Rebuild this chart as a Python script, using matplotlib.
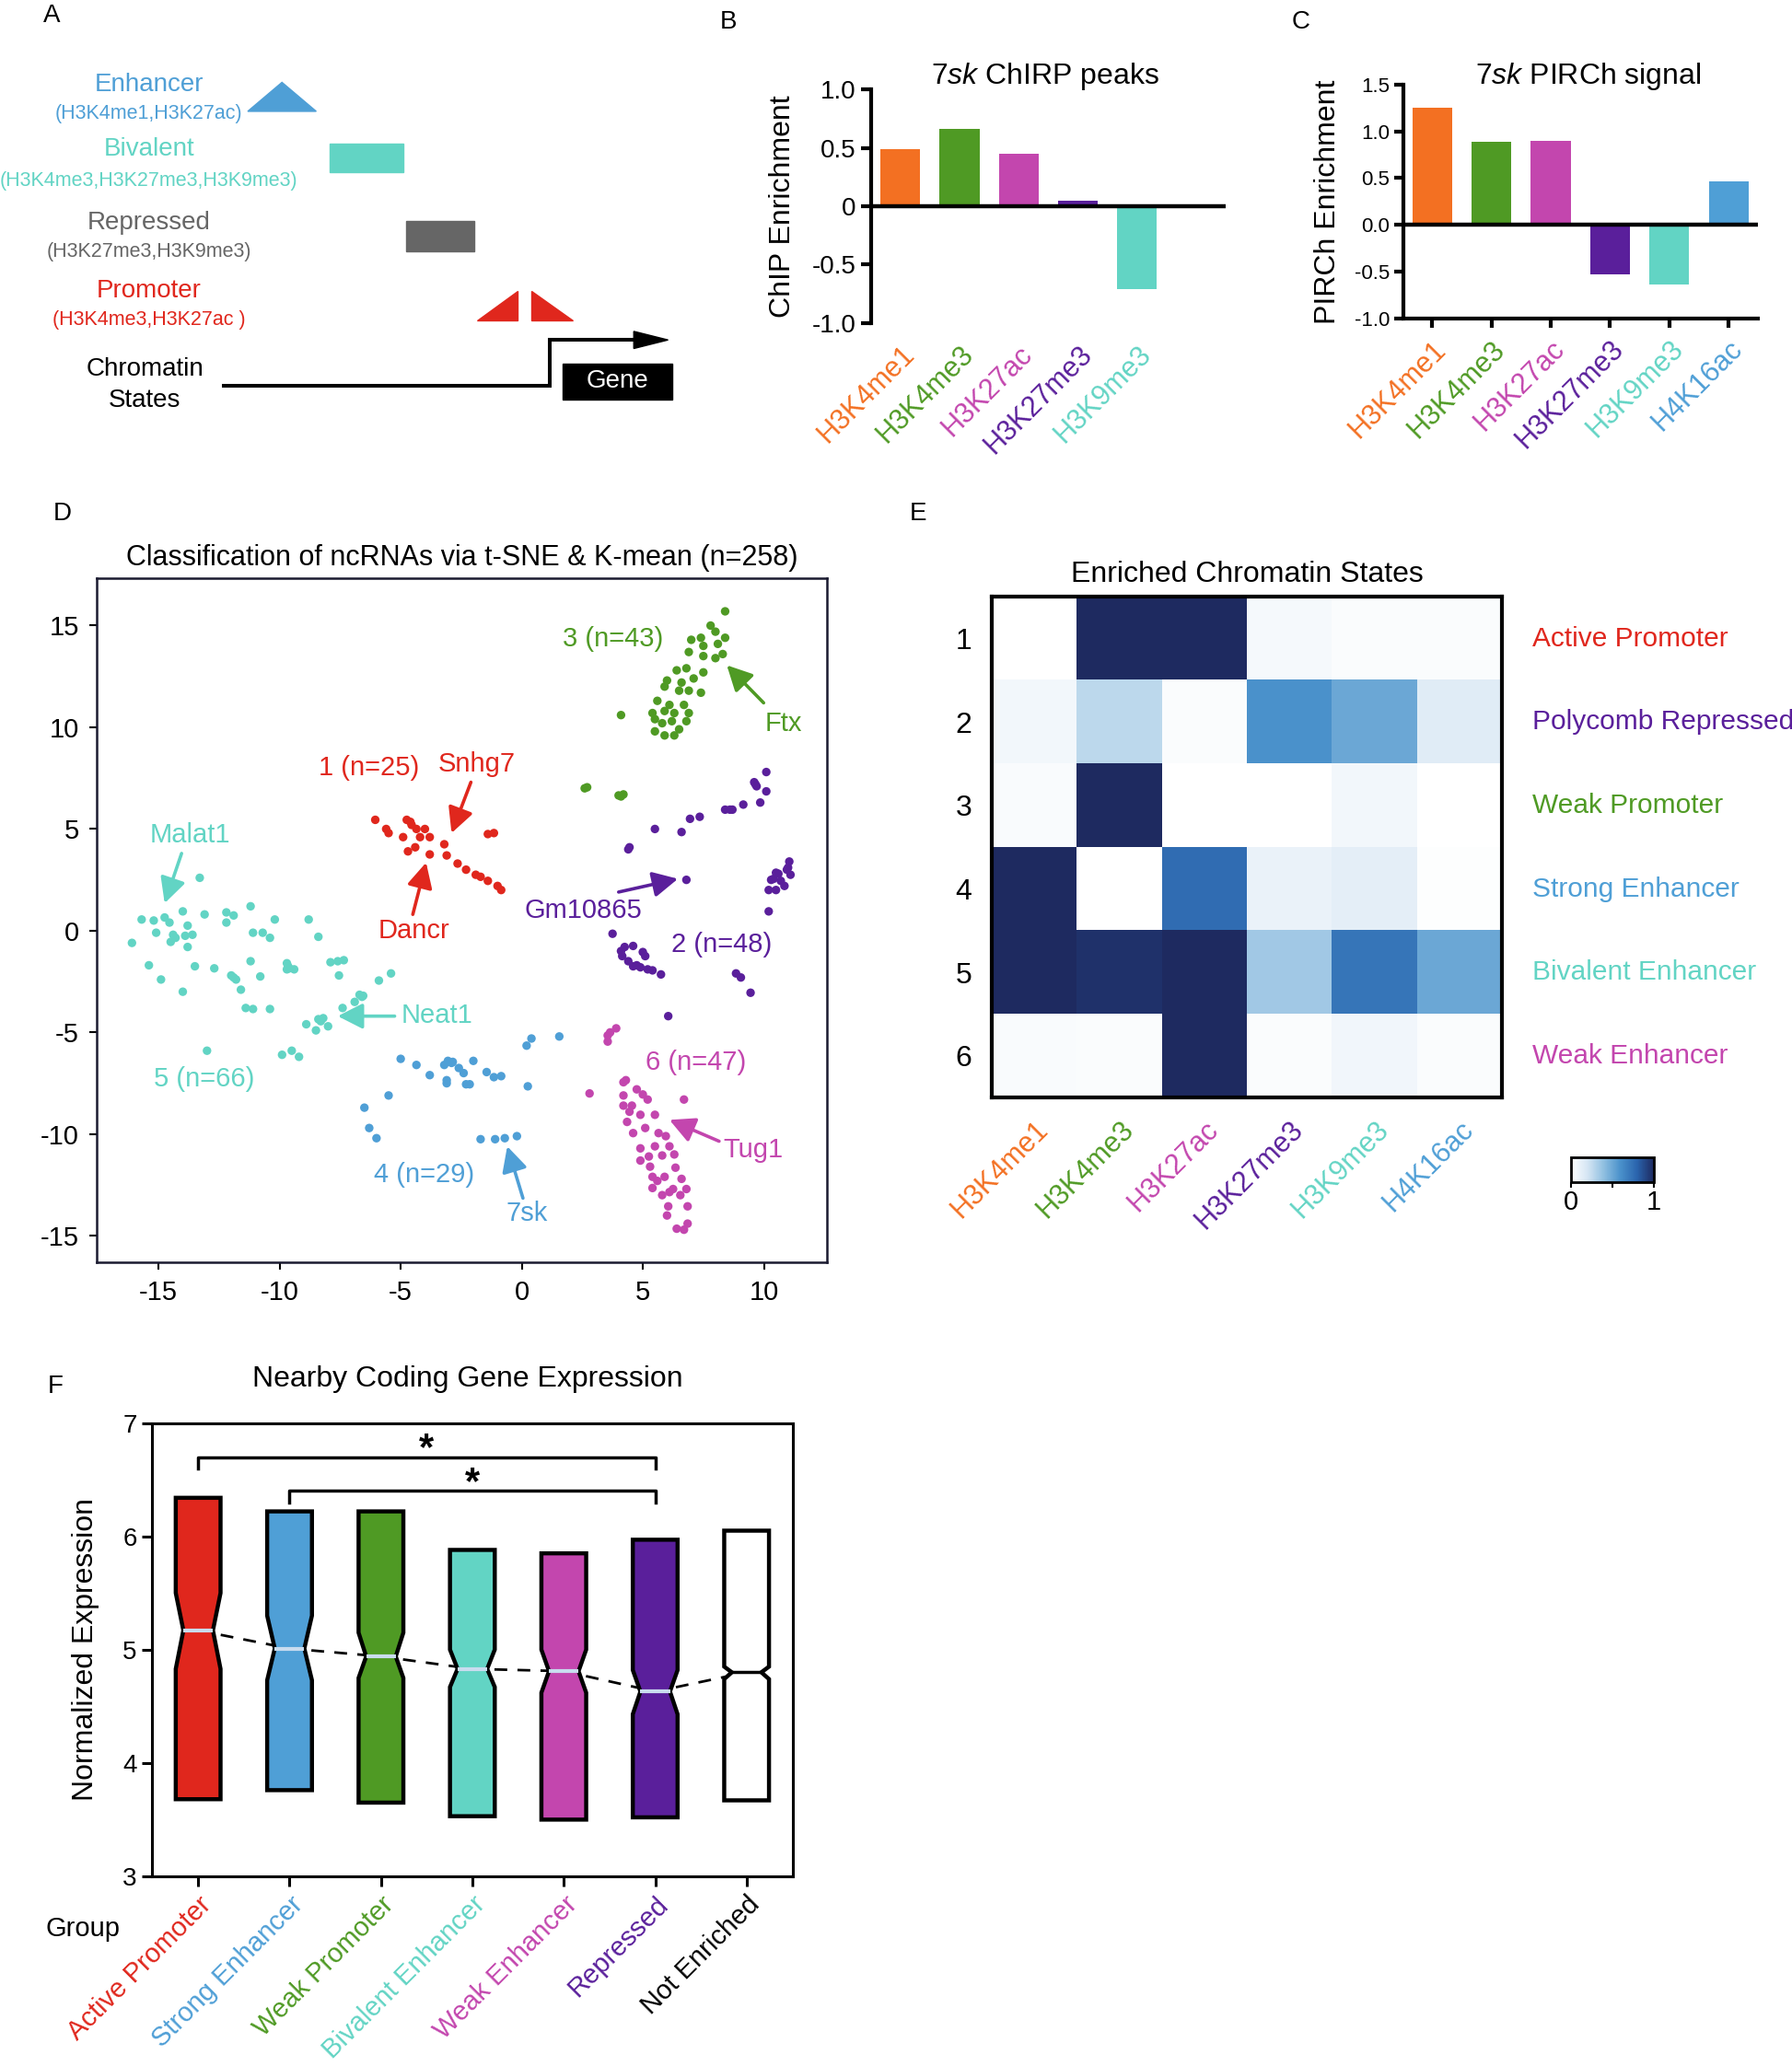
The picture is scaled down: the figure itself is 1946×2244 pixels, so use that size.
import numpy as np
import matplotlib
matplotlib.use('Agg')
import matplotlib.pyplot as plt
from matplotlib.patches import Polygon, Rectangle
from matplotlib.colors import LinearSegmentedColormap

plt.rcParams['font.family'] = ['Liberation Sans', 'DejaVu Sans']
plt.rcParams['axes.unicode_minus'] = False
plt.rcParams['mathtext.fontset'] = 'custom'
plt.rcParams['mathtext.it'] = 'Liberation Sans:italic'
plt.rcParams['mathtext.rm'] = 'Liberation Sans'

# colours per mark
ORANGE = '#f37022'
GREEN = '#4f9a24'
MAGENTA = '#c346ae'
PURPLE = '#5a1f9b'
TEAL = '#62d4c4'
BLUE = '#4f9fd6'
RED = '#e0271d'
GRAY = '#666666'

# ---- panel B / C data ----
marks_b = ['H3K4me1', 'H3K4me3', 'H3K27ac', 'H3K27me3', 'H3K9me3']
chirp = [0.49, 0.66, 0.45, 0.05, -0.71]
marks_c = ['H3K4me1', 'H3K4me3', 'H3K27ac', 'H3K27me3', 'H3K9me3', 'H4K16ac']
pirch = [1.25, 0.89, 0.90, -0.53, -0.63, 0.47]
mark_colors = [ORANGE, GREEN, MAGENTA, PURPLE, TEAL, BLUE]

# ---- panel D data (t-SNE coords per cluster) ----
x1 = [-6.05, -5.6, -5.5, -4.75, -4.6, -4.35, -4.0, -4.9, -4.2, -3.8, -4.4, -4.7, -3.8, -3.2, -3.1,
      -2.65, -2.3, -1.9, -1.7, -1.4, -1.0, -0.85, -1.4, -1.15, -4.55]
y1 = [5.45, 5.0, 4.8, 5.45, 5.35, 5.0, 5.0, 4.6, 4.6, 4.6, 4.1, 3.9, 3.75, 4.25, 3.7,
      3.3, 3.0, 2.75, 2.65, 2.45, 2.2, 2.0, 4.75, 4.8, 5.2]
x2 = [10.1, 9.6, 9.7, 10.1, 9.85, 9.15, 8.4, 8.7, 7.35, 6.95, 6.6, 5.5, 4.45, 4.4, 6.8,
      11.05, 10.95, 11.1, 10.5, 10.4, 10.2, 10.5, 10.85, 10.2, 10.7, 10.3, 3.75, 4.1, 4.25, 4.6,
      4.4, 4.6, 4.9, 5.0, 5.1, 5.4, 5.75, 8.85, 9.05, 9.45, 6.05, 4.15, 4.75, 8.6, 11.0,
      10.6, 9.65, 5.2]
y2 = [7.8, 7.3, 7.1, 6.85, 6.3, 6.2, 5.95, 5.95, 5.6, 5.5, 4.85, 5.0, 4.1, 4.0, 2.5,
      3.4, 3.0, 2.75, 2.85, 2.55, 2.0, 2.0, 2.2, 0.95, 2.45, 2.5, -0.15, -1.0, -0.8, -0.75,
      -1.5, -1.75, -1.8, -1.05, -1.25, -1.95, -2.15, -2.1, -2.3, -3.05, -4.2, -1.25, -1.7, 5.95, 3.1,
      2.8, 7.2, -1.9]
x3 = [8.4, 7.8, 8.0, 7.4, 7.0, 8.4, 8.1, 7.5, 6.9, 8.3, 8.0, 7.5, 6.8, 6.4, 7.5,
      6.0, 6.6, 7.1, 5.9, 6.5, 6.9, 7.4, 5.6, 6.1, 6.7, 5.4, 5.9, 6.3, 6.9, 5.5,
      5.8, 6.2, 6.8, 5.5, 5.9, 6.3, 6.5, 4.1, 2.6, 2.7, 4.1, 4.2, 4.0]
y3 = [15.7, 15.0, 14.7, 14.4, 14.3, 14.4, 14.1, 14.0, 13.7, 13.6, 13.4, 13.5, 12.9, 12.8, 12.7,
      12.3, 12.2, 12.4, 12.0, 11.8, 11.8, 11.7, 11.3, 11.1, 11.1, 10.7, 10.8, 10.7, 10.7, 10.4,
      10.2, 10.3, 10.3, 9.8, 9.6, 9.6, 9.9, 10.6, 7.0, 7.05, 6.6, 6.7, 6.65]
x4 = [-5.0, -4.35, -3.8, -3.2, -3.05, -2.9, -3.1, -3.1, -2.6, -2.4, -2.3, -2.15, -2.0, -1.45, -1.15,
      -0.85, 0.2, 0.4, 1.55, 0.25, -5.5, -6.5, -6.3, -6.0, -1.7, -1.1, -0.7, -0.2, -2.85]
y4 = [-6.3, -6.6, -7.1, -6.6, -6.4, -6.5, -7.35, -7.5, -6.75, -7.0, -7.55, -7.55, -6.4, -6.95, -7.2,
      -7.15, -5.65, -5.3, -5.2, -7.65, -8.1, -8.7, -9.7, -10.2, -10.25, -10.25, -10.2, -10.1, -6.45]
x5 = [-16.1, -15.7, -15.2, -14.75, -14.55, -15.1, -14.4, -14.5, -14.0, -13.8, -13.9, -13.6, -13.8, -13.3, -13.1,
      -12.2, -12.2, -11.9, -11.2, -11.1, -10.7, -10.4, -10.2, -8.8, -8.4, -15.4, -14.9, -13.5, -12.7, -14.0,
      -11.9, -11.8, -11.6, -11.2, -10.8, -11.4, -11.1, -10.4, -9.7, -9.6, -9.4, -9.7, -7.9, -7.6, -7.35,
      -7.55, -6.55, -6.7, -6.9, -7.4, -5.9, -5.4, -8.9, -8.4, -8.2, -8.5, -8.0, -9.9, -9.5, -9.2,
      -13.0, -14.3, -12.0, -9.65, -6.6, -8.3]
y5 = [-0.6, 0.55, 0.5, 0.65, 0.4, -0.1, -0.2, -0.55, 0.95, 0.25, -0.25, -0.2, -0.8, 2.6, 0.8,
      0.9, 0.4, 0.75, 1.2, -0.1, -0.1, -0.35, 0.55, 0.55, -0.3, -1.7, -2.4, -1.75, -1.85, -3.0,
      -2.3, -2.4, -2.9, -1.5, -2.25, -3.8, -3.85, -3.85, -1.6, -1.85, -1.9, -1.9, -1.55, -1.5, -1.45,
      -2.2, -3.2, -3.15, -3.5, -3.8, -2.45, -2.1, -4.6, -4.35, -4.3, -4.9, -4.7, -6.1, -5.9, -6.2,
      -5.9, -0.35, -2.2, -1.75, -3.25, -4.45]
x6 = [3.55, 3.65, 3.9, 3.55, 2.8, 4.2, 4.3, 4.75, 5.0, 4.2, 6.7, 4.2, 4.55, 4.9, 5.5,
      4.35, 5.1, 5.65, 4.9, 5.5, 6.1, 6.3, 5.25, 5.8, 4.9, 5.3, 6.35, 5.4, 5.9, 6.6,
      5.4, 5.8, 6.25, 6.8, 6.55, 6.85, 6.05, 6.0, 6.4, 6.7, 6.85, 5.2, 4.6, 5.95, 6.1, 5.6, 4.45]
y6 = [-5.15, -5.0, -4.8, -5.45, -8.0, -7.45, -7.35, -7.8, -8.05, -8.1, -8.3, -8.6, -8.6, -9.05, -9.05,
      -9.4, -9.7, -9.95, -10.7, -10.6, -10.6, -11.0, -11.1, -11.05, -11.3, -11.6, -11.65, -12.1, -12.1, -12.2,
      -12.65, -13.0, -12.7, -12.7, -13.0, -13.55, -13.55, -14.0, -14.65, -14.7, -14.4, -8.3, -9.95, -10.1, -12.85,
      -12.3, -8.9]
clusters = [(x1, y1, RED), (x2, y2, PURPLE), (x3, y3, GREEN), (x4, y4, BLUE), (x5, y5, TEAL), (x6, y6, MAGENTA)]

cluster_labels = ['3 (n=43)', '1 (n=25)', '2 (n=48)', '4 (n=29)', '5 (n=66)', '6 (n=47)']
cluster_label_pos = [(3.77, 14.35), (-6.3, 8.0), (8.25, -0.7), (-4.05, -12.0), (-13.1, -7.3), (7.2, -6.5)]
cluster_label_colors = [GREEN, RED, PURPLE, BLUE, TEAL, MAGENTA]

genes = ['Ftx', 'Snhg7', 'Dancr', 'Malat1', 'Neat1', 'Gm10865', '7sk', 'Tug1']
gene_text = [(10.8, 10.2), (-1.85, 8.2), (-4.45, 0.0), (-13.7, 4.7), (-3.5, -4.15), (2.55, 1.0), (0.2, -13.9), (9.55, -10.8)]
gene_tail = [(9.99, 11.2), (-2.1, 7.3), (-4.5, 0.8), (-14.05, 3.8), (-5.25, -4.2), (4.0, 1.9), (0.05, -13.15), (8.15, -10.35)]
gene_tip = [(8.47, 13.05), (-2.9, 4.8), (-3.95, 3.35), (-14.75, 1.35), (-7.6, -4.2), (6.45, 2.55), (-0.6, -10.6), (6.1, -9.3)]
gene_colors = [GREEN, RED, RED, TEAL, TEAL, PURPLE, BLUE, MAGENTA]

# ---- panel E data ----
states = ['Active Promoter', 'Polycomb Repressed', 'Weak Promoter', 'Strong Enhancer', 'Bivalent Enhancer', 'Weak Enhancer']
state_colors = [RED, PURPLE, GREEN, BLUE, TEAL, MAGENTA]
heat = np.array([
    [0.00, 1.00, 1.00, 0.05, 0.02, 0.02],
    [0.06, 0.27, 0.02, 0.60, 0.50, 0.15],
    [0.03, 1.00, 0.00, 0.00, 0.06, 0.00],
    [1.00, 0.00, 0.76, 0.10, 0.13, 0.01],
    [1.00, 0.97, 1.00, 0.35, 0.72, 0.50],
    [0.03, 0.02, 1.00, 0.02, 0.07, 0.02],
])

# ---- panel F data ----
groups = ['Active Promoter', 'Strong Enhancer', 'Weak Promoter', 'Bivalent Enhancer', 'Weak Enhancer', 'Repressed', 'Not Enriched']
group_colors = [RED, BLUE, GREEN, TEAL, MAGENTA, PURPLE, 'white']
label_colors = [RED, BLUE, GREEN, TEAL, MAGENTA, PURPLE, 'black']
box_hi = [6.34, 6.22, 6.22, 5.88, 5.85, 5.97, 6.05]
box_lo = [3.68, 3.76, 3.65, 3.53, 3.50, 3.52, 3.67]
medians = [5.17, 5.01, 4.94, 4.83, 4.81, 4.63, 4.80]
notch_hi = [5.50, 5.30, 5.15, 5.00, 5.00, 4.82, 4.85]
notch_lo = [4.83, 4.73, 4.75, 4.67, 4.62, 4.43, 4.74]
brackets = [(0, 5, 6.70), (1, 5, 6.40)]

W, H = 1360, 1568
fig = plt.figure(figsize=(19.46, 22.44), dpi=100)

# background axes in page pixels (panel A schematic + panel letters)
ax0 = fig.add_axes([0, 0, 1, 1])
ax0.set_xlim(0, W)
ax0.set_ylim(H, 0)
ax0.axis('off')

for lab, (px, py) in zip('ABCDEF', [(39, 12), (553, 17), (987, 17), (47, 390), (697, 390), (42, 1052)]):
    ax0.text(px, py, lab, fontsize=20, ha='center', va='center')

# panel A
a_text = [('Enhancer', 64, 20, BLUE), ('(H3K4me1,H3K27ac)', 86, 15.5, BLUE),
          ('Bivalent', 113, 20, TEAL), ('(H3K4me3,H3K27me3,H3K9me3)', 137, 15.5, TEAL),
          ('Repressed', 169, 20, GRAY), ('(H3K27me3,H3K9me3)', 191, 15.5, GRAY),
          ('Promoter', 221, 20, RED), ('(H3K4me3,H3K27ac )', 243, 15.5, RED)]
for t, py, fs, c in a_text:
    ax0.text(113, py, t, fontsize=fs, color=c, ha='center', va='center')
ax0.text(110, 280, 'Chromatin', fontsize=20, ha='center', va='center')
ax0.text(110, 304, 'States', fontsize=20, ha='center', va='center')
ax0.add_patch(Polygon([(188, 84.5), (240, 84.5), (214, 62.5)], color=BLUE))
ax0.add_patch(Rectangle((250, 109), 56, 22, color=TEAL))
ax0.add_patch(Rectangle((308, 168), 52, 23, color=GRAY))
ax0.add_patch(Polygon([(362, 243), (393, 243), (393, 221)], color=RED))
ax0.add_patch(Polygon([(403, 221), (403, 243), (435, 243)], color=RED))
ax0.plot([170, 417, 417, 482], [293, 293, 258, 258], color='black', lw=2.9, solid_joinstyle='miter')
ax0.add_patch(Polygon([(481, 251.5), (481, 264.5), (507, 258)], color='black'))
ax0.add_patch(Rectangle((427, 276), 83, 27, color='black'))
ax0.text(468.5, 289.5, 'Gene', color='white', fontsize=20, ha='center', va='center')


def fax(x0, y0, x1_, y1_):
    a = fig.add_axes([x0 / W, 1 - y1_ / H, (x1_ - x0) / W, (y1_ - y0) / H])
    a.patch.set_alpha(0)
    return a


# panel B
axb = fax(661, 68, 930, 245)
xb = np.arange(len(marks_b))
axb.bar(xb, chirp, width=0.67, color=mark_colors[:5])
axb.axhline(0, color='black', lw=3.2, xmin=0)
axb.set_xlim(-0.495, 5.49)
axb.set_ylim(-1, 1)
axb.set_yticks([-1, -0.5, 0, 0.5, 1])
axb.set_yticklabels(['-1.0', '-0.5', '0', '0.5', '1.0'], fontsize=20)
axb.set_xticks(xb)
axb.set_xticklabels(marks_b, fontsize=22, rotation=45, ha='right', rotation_mode='anchor')
for lab, c in zip(axb.get_xticklabels(), mark_colors):
    lab.set_color(c)
axb.tick_params(axis='x', length=0, pad=14)
axb.tick_params(axis='y', length=8, width=3)
for s in ['top', 'right', 'bottom']:
    axb.spines[s].set_visible(False)
axb.spines['left'].set_linewidth(3)
axb.set_ylabel('ChIP Enrichment', fontsize=23, labelpad=12)
ax0.text(793, 58, r'$\mathit{7sk}$ ChIRP peaks', fontsize=23, ha='center', va='center')

# panel C
axc = fax(1065, 64, 1334, 242)
xc = np.arange(len(marks_c))
axc.bar(xc, pirch, width=0.67, color=mark_colors)
axc.axhline(0, color='black', lw=3.2)
axc.set_xlim(-0.486, 5.49)
axc.set_ylim(-1, 1.5)
axc.set_yticks([-1, -0.5, 0, 0.5, 1, 1.5])
axc.set_yticklabels(['-1.0', '-0.5', '0.0', '0.5', '1.0', '1.5'], fontsize=16)
axc.set_xticks(xc)
axc.set_xticklabels(marks_c, fontsize=22, rotation=45, ha='right', rotation_mode='anchor')
for lab, c in zip(axc.get_xticklabels(), mark_colors):
    lab.set_color(c)
axc.tick_params(axis='x', length=7, width=3, pad=6)
axc.tick_params(axis='y', length=7, width=3)
for s in ['top', 'right']:
    axc.spines[s].set_visible(False)
axc.spines['left'].set_linewidth(3)
axc.spines['bottom'].set_linewidth(3)
axc.set_ylabel('PIRCh Enrichment', fontsize=23, labelpad=10)
ax0.text(1205, 58, r'$\mathit{7sk}$ PIRCh signal', fontsize=23, ha='center', va='center')

# panel D
axd = fax(73.5, 438.5, 627.5, 958)
for xs, ys, c in clusters:
    axd.scatter(xs, ys, s=45, color=c, edgecolors='none', zorder=3)
for t, (tx, ty), c in zip(cluster_labels, cluster_label_pos, cluster_label_colors):
    axd.text(tx, ty, t, color=c, fontsize=21, ha='center', va='center')
for g, tp, tl, tip, c in zip(genes, gene_text, gene_tail, gene_tip, gene_colors):
    axd.annotate('', xy=tip, xytext=tl,
                 arrowprops=dict(arrowstyle='-|>,head_length=0.55,head_width=0.28', color=c, lw=2.6,
                                 mutation_scale=30, shrinkA=0, shrinkB=0))
    axd.text(tp[0], tp[1], g, color=c, fontsize=21, ha='center', va='center')
axd.set_xlim(-17.55, 12.6)
axd.set_ylim(-16.3, 17.35)
axd.set_xticks([-15, -10, -5, 0, 5, 10])
axd.set_yticks([-15, -10, -5, 0, 5, 10, 15])
axd.tick_params(labelsize=21, length=6, width=1.5, pad=8)
for s in axd.spines.values():
    s.set_linewidth(1.8)
    s.set_color('#1a1a30')
axd.set_title('Classification of ncRNAs via t-SNE & K-mean (n=258)', fontsize=22, pad=10)

# panel E
cmap = LinearSegmentedColormap.from_list('chrom', ['#ffffff', '#d6e6f4', '#8fbfe0', '#4a91cb', '#2a64ad', '#1e2a60'])
axe = fax(753, 453, 1140, 833)
im = axe.imshow(heat, cmap=cmap, vmin=0, vmax=1, aspect='auto', interpolation='nearest')
axe.set_xticks(np.arange(6))
axe.set_xticklabels(marks_c, fontsize=22, rotation=45, ha='right', rotation_mode='anchor')
for lab, c in zip(axe.get_xticklabels(), mark_colors):
    lab.set_color(c)
axe.set_yticks(np.arange(6))
axe.set_yticklabels([str(i + 1) for i in range(6)], fontsize=23)
axe.tick_params(length=0)
axe.tick_params(axis='x', pad=14)
axe.tick_params(axis='y', pad=16)
for s in axe.spines.values():
    s.set_linewidth(3)
for i, (st, c) in enumerate(zip(states, state_colors)):
    axe.text(1.06, 1 - (i + 0.5) / 6, st, transform=axe.transAxes, color=c, fontsize=21.5, va='center', ha='left')
axe.set_title('Enriched Chromatin States', fontsize=23, pad=12)

cax = fax(1192, 878, 1255, 897)
cb = fig.colorbar(im, cax=cax, orientation='horizontal', ticks=[0, 0.5, 1])
cb.ax.set_xticklabels(['0', '', '1'], fontsize=21)
cb.outline.set_linewidth(2)
cb.ax.tick_params(length=4, width=1.5, pad=2)

# panel F
axf = fax(115, 1080, 602, 1424)
stats = []
for i in range(len(groups)):
    stats.append(dict(med=medians[i], q1=box_lo[i], q3=box_hi[i], whislo=box_lo[i], whishi=box_hi[i],
                      cilo=notch_lo[i], cihi=notch_hi[i], fliers=[]))
xf = np.arange(len(groups))
axf.plot(xf, medians, color='black', lw=2, dashes=(5, 4), zorder=1)
bp = axf.bxp(stats, positions=xf, widths=0.49, shownotches=True, patch_artist=True, showcaps=False,
             showfliers=False, boxprops=dict(linewidth=3.2), whiskerprops=dict(linewidth=0),
             medianprops=dict(color='#c9dcef', linewidth=3))
for i, (patch, c) in enumerate(zip(bp['boxes'], group_colors)):
    patch.set_facecolor(c)
    patch.set_edgecolor('black')
    patch.set_zorder(2)
    v = patch.get_path().vertices
    v[3, 0] = xf[i] + 0.49 * 0.33
    v[8, 0] = xf[i] - 0.49 * 0.33
for i, m in enumerate(bp['medians']):
    m.set_xdata([xf[i] - 0.49 * 0.33, xf[i] + 0.49 * 0.33])
    m.set_zorder(3)
bp['medians'][-1].set_color('black')
bp['medians'][-1].set_linewidth(2.5)
for a, b, yb in brackets:
    axf.plot([a, a, b, b], [yb - 0.1, yb, yb, yb - 0.1], color='black', lw=2.5)
    axf.text((a + b) / 2, yb + 0.07, '*', fontsize=30, fontweight='bold', ha='center', va='center')
axf.set_xlim(-0.51, 6.51)
axf.set_ylim(3, 7)
axf.set_yticks([3, 4, 5, 6, 7])
axf.set_xticks(xf)
axf.set_xticklabels(groups, fontsize=21, rotation=45, ha='right', rotation_mode='anchor')
for lab, c in zip(axf.get_xticklabels(), label_colors):
    lab.set_color(c)
axf.tick_params(axis='y', labelsize=20, length=8, width=2.2)
axf.tick_params(axis='x', length=8, width=2.2, pad=4)
for s in axf.spines.values():
    s.set_linewidth(2.2)
axf.set_ylabel('Normalized Expression', fontsize=23, labelpad=18)
ax0.text(355, 1047, 'Nearby Coding Gene Expression', fontsize=23, ha='center', va='center')
ax0.text(63, 1464, 'Group', fontsize=21, ha='center', va='center')

fig.savefig('out.png', dpi=100)
